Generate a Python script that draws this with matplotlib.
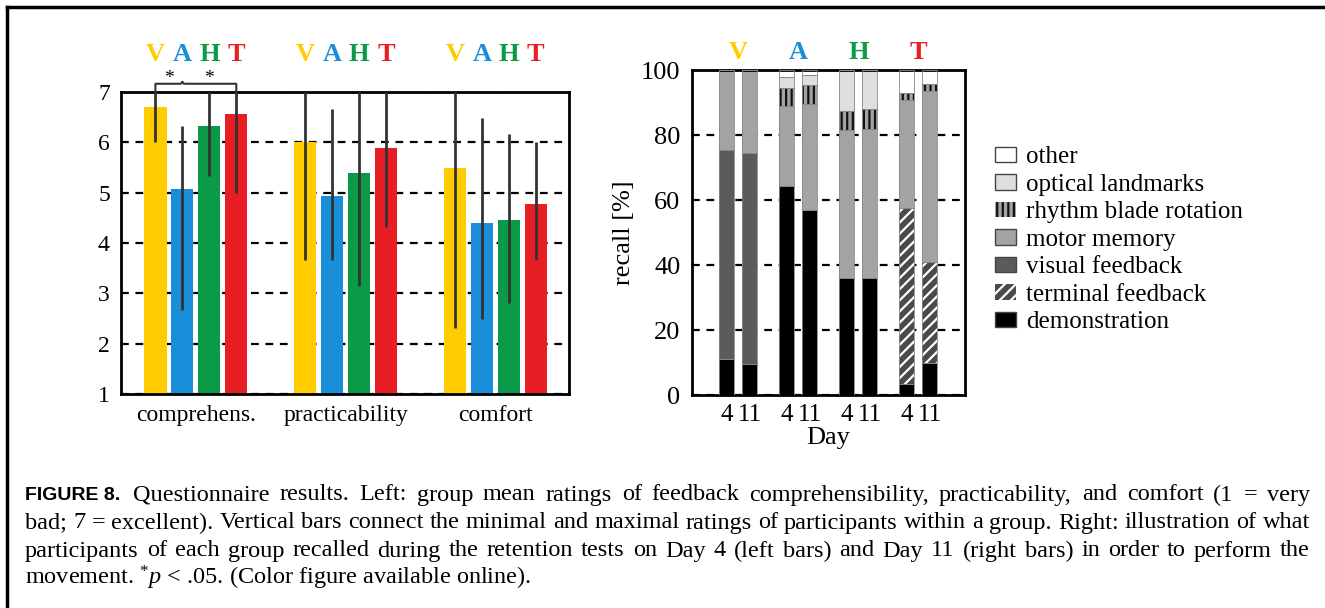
import numpy as np
import matplotlib
matplotlib.use('Agg')
import matplotlib.pyplot as plt
from matplotlib.patches import Patch
from matplotlib.lines import Line2D

plt.rcParams['font.family'] = 'Liberation Serif'
plt.rcParams['mathtext.fontset'] = 'custom'
plt.rcParams['mathtext.rm'] = 'Liberation Serif'
plt.rcParams['mathtext.it'] = 'Liberation Serif:italic'
plt.rcParams['hatch.linewidth'] = 1.6

# left chart: questionnaire ratings
categories = ['comprehens.', 'practicability', 'comfort']
groups = ['V', 'A', 'H', 'T']
group_colors = ['#ffcc00', '#1a8ed8', '#0b9a48', '#e81e25']
means = [[6.70, 5.07, 6.33, 6.55],
         [6.00, 4.94, 5.38, 5.88],
         [5.48, 4.39, 4.46, 4.77]]
rating_min = [[6.00, 2.67, 5.33, 5.00],
              [3.66, 3.66, 3.15, 4.32],
              [2.32, 2.49, 2.80, 3.67]]
rating_max = [[7.00, 6.32, 7.00, 7.00],
              [7.00, 6.66, 7.00, 7.00],
              [7.00, 6.48, 6.16, 6.00]]

# right chart: recall per group and day (stacked %)
days = ['4', '11']
recall_labels = ['demonstration', 'terminal feedback', 'visual feedback', 'motor memory',
                 'rhythm blade rotation', 'optical landmarks', 'other']
# order of bars: V4, V11, A4, A11, H4, H11, T4, T11
demonstration = [11.0, 9.5, 64.5, 57.0, 36.0, 36.0, 3.5, 10.0]
terminal_fb   = [0.0, 0.0, 0.0, 0.0, 0.0, 0.0, 54.2, 31.0]
visual_fb     = [64.6, 65.0, 0.0, 0.0, 0.0, 0.0, 0.0, 0.0]
motor_memory  = [24.4, 25.5, 24.5, 32.5, 45.5, 46.0, 33.0, 52.5]
rhythm        = [0.0, 0.0, 5.5, 6.0, 6.0, 6.0, 2.3, 2.4]
optical       = [0.0, 0.0, 3.5, 3.0, 12.5, 12.0, 0.0, 0.0]
other         = [0.0, 0.0, 2.0, 1.5, 0.0, 0.0, 7.0, 4.1]

fig = plt.figure(figsize=(13.25, 6.08), dpi=100)

# ---------- left chart ----------
ax1 = fig.add_axes([0.0913, 0.352, 0.338, 0.497])
step = 0.18
width = 0.148
x = np.arange(len(categories))
for j, g in enumerate(groups):
    pos = x + (j - 1.5) * step
    vals = [m[j] for m in means]
    ax1.bar(pos, [v - 1 for v in vals], bottom=1, width=width, color=group_colors[j],
            zorder=2)
    ax1.vlines(pos, [r[j] for r in rating_min], [r[j] for r in rating_max],
               color='#333333', lw=2, zorder=3, clip_on=False)
    for p in pos:
        ax1.text(p, 7.74, g, color=group_colors[j], fontsize=19, fontweight='bold',
                 ha='center', va='center', clip_on=False)

ax1.set_ylim(1, 7)
ax1.set_xlim(-0.5, 2.49)
ax1.set_yticks(range(1, 8))
ax1.set_xticks(x)
ax1.set_xticklabels(categories)
ax1.tick_params(length=0, labelsize=17, pad=8)
ax1.yaxis.grid(True, color='black', lw=1.6, linestyle=(0, (3.5, 3)))
ax1.set_axisbelow(True)
for s in ax1.spines.values():
    s.set_linewidth(2)

# significance bracket
bx = [0 + (j - 1.5) * step for j in range(4)]
by = 7.16
ax1.plot([bx[0], bx[0], bx[1] - 0.01, bx[1], bx[1] + 0.01, bx[3], bx[3]],
         [7.0, by, by, by + 0.04, by, by, 7.0], color='#333333', lw=1.5,
         clip_on=False, zorder=4)
ax1.text((bx[0] + bx[1]) / 2, by + 0.1, '*', ha='center', va='center', fontsize=14,
         clip_on=False)
ax1.text((bx[1] + bx[3]) / 2, by + 0.1, '*', ha='center', va='center', fontsize=14,
         clip_on=False)

# ---------- right chart ----------
ax2 = fig.add_axes([0.522, 0.350, 0.206, 0.5345])
bar_pos = []
for g in range(4):
    for d in range(2):
        bar_pos.append(g + (d - 0.5) * 0.385)
bar_pos = np.array(bar_pos)
bw = 0.25

stacks = [demonstration, terminal_fb, visual_fb, motor_memory, rhythm, optical, other]
fills = ['black', '#4a4a4a', '#5b5b5b', '#a3a3a3', '#a3a3a3', '#dedede', 'white']
hatches = [None, '///', None, None, '|||', None, None]
hatch_cols = [None, 'white', None, None, '#111111', None, None]
bottom = np.zeros(len(bar_pos))
handles = []
for vals, fc, h, hc, lab in zip(stacks, fills, hatches, hatch_cols, recall_labels):
    vals = np.array(vals)
    if h:
        ax2.bar(bar_pos, vals, bottom=bottom, width=bw, color=fc, hatch=h,
                edgecolor=hc, lw=0, zorder=2)
    else:
        ax2.bar(bar_pos, vals, bottom=bottom, width=bw, color=fc, lw=0, zorder=2)
    ax2.bar(bar_pos, vals, bottom=bottom, width=bw, fill=False, edgecolor='#888888',
            lw=0.6, zorder=3)
    handles.append(Patch(facecolor=fc, hatch=h, edgecolor=hc if h else '#444444',
                         lw=0 if h else 1, label=lab))
    bottom = bottom + vals

ax2.set_ylim(0, 100)
ax2.set_xlim(-0.78, 3.77)
ax2.set_yticks(range(0, 101, 20))
ax2.set_xticks(bar_pos)
ax2.set_xticklabels(days * 4)
ax2.tick_params(axis='y', length=0, labelsize=19, pad=8)
ax2.tick_params(axis='x', length=0, labelsize=18, pad=6)
ax2.set_xlabel('Day', fontsize=19, labelpad=1)
ax2.set_ylabel('recall [%]', fontsize=19, labelpad=4)
ax2.yaxis.grid(True, color='black', lw=1.6, linestyle=(0, (3.5, 3)))
ax2.set_axisbelow(True)
for s in ax2.spines.values():
    s.set_linewidth(2)
for g in range(4):
    ax2.text(g, 105.5, groups[g], color=group_colors[g], fontsize=19,
             fontweight='bold', ha='center', va='center', clip_on=False)

leg = ax2.legend(handles=handles[::-1], loc='center left', bbox_to_anchor=(1.075, 0.478),
                 frameon=False, fontsize=18, handlelength=0.85, handleheight=0.6,
                 handletextpad=0.4, labelspacing=0.22, borderaxespad=0)

# ---------- caption ----------
cap = [
    "Questionnaire results. Left: group mean ratings of feedback comprehensibility, "
    "practicability, and comfort (1 = very",
    "bad; 7 = excellent). Vertical bars connect the minimal and maximal ratings of participants "
    "within a group. Right: illustration of what",
    "participants of each group recalled during the retention tests on Day 4 (left bars) and "
    "Day 11 (right bars) in order to perform the",
    "movement. $^{*}\\mathit{p}$ < .05. (Color figure available online).",
]
cap_y = [495, 523, 551, 578]
cap_x0 = [133, 25, 25, 25]
cap_x1 = 1310
cap_size = 17.5
W, H = 1325.0, 608.0

fig.text(25 / W, 1 - cap_y[0] / H, 'FIGURE 8.', fontsize=14, fontweight='bold',
         family='Liberation Sans', va='center')
renderer = fig.canvas.get_renderer()
for i, line in enumerate(cap):
    yy = 1 - cap_y[i] / H
    if i == len(cap) - 1:
        fig.text(cap_x0[i] / W, yy, line, fontsize=cap_size, va='center')
        continue
    # justified line: spread the words between the margins
    words = line.split(' ')
    arts = [fig.text(0, yy, w, fontsize=cap_size, va='center') for w in words]
    widths = [a.get_window_extent(renderer).width for a in arts]
    gap = (cap_x1 - cap_x0[i] - sum(widths)) / (len(words) - 1)
    xx = cap_x0[i]
    for a, wd in zip(arts, widths):
        a.set_x(xx / W)
        xx += wd + gap

# frame around the figure (top and left edges)
fig.add_artist(Line2D([0.0055, 1.0], [0.988, 0.988], color='black', lw=2.5))
fig.add_artist(Line2D([0.0055, 0.0055], [0.0, 0.988], color='black', lw=2.5))

fig.savefig('out.png', dpi=100)
